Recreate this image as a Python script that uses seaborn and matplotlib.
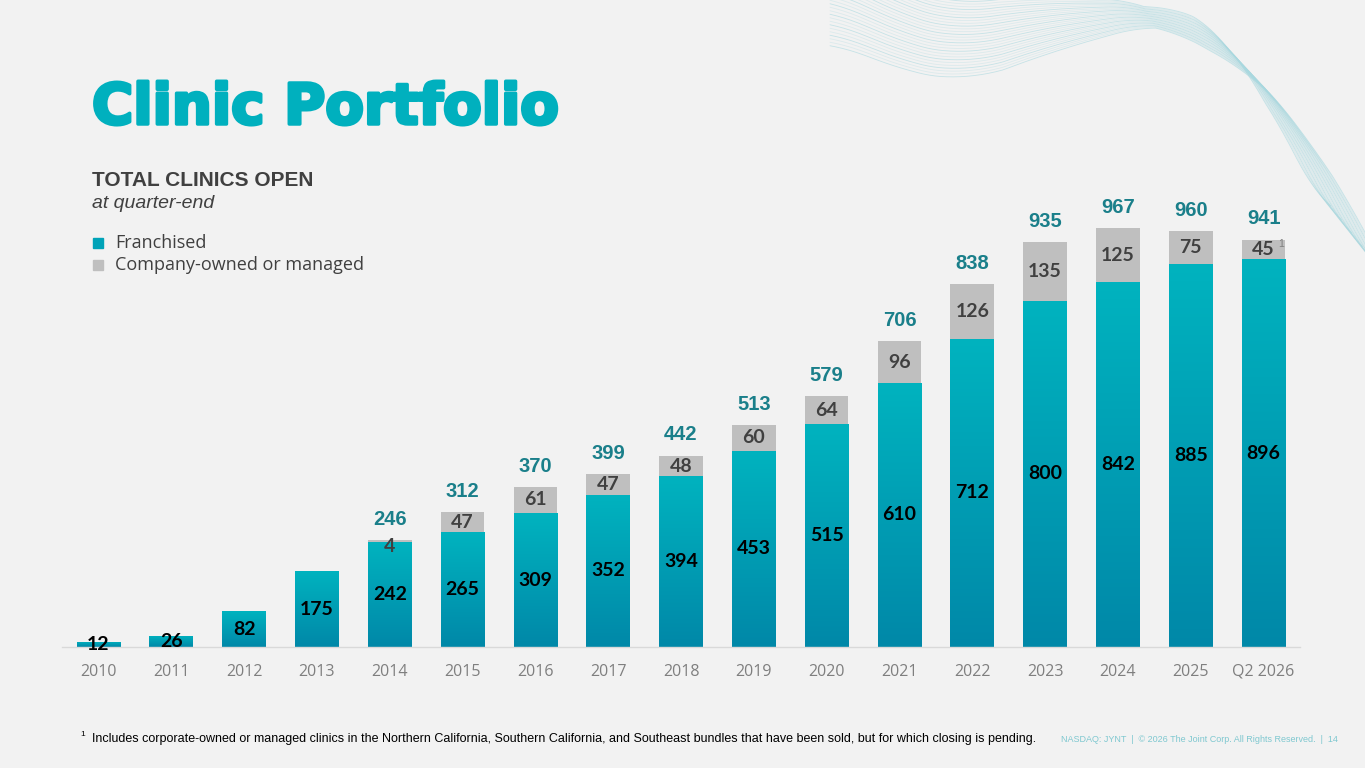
import numpy as np
import pandas as pd
import seaborn as sns
import matplotlib.pyplot as plt
import matplotlib.patheffects as pe
from matplotlib.colors import LinearSegmentedColormap

# data
years = ['2010', '2011', '2012', '2013', '2014', '2015', '2016', '2017', '2018',
         '2019', '2020', '2021', '2022', '2023', '2024', '2025', 'Q2 2026']
franchised = [12, 26, 82, 175, 242, 265, 309, 352, 394, 453, 515, 610, 712, 800, 842, 885, 896]
company = [0, 0, 0, 0, 4, 47, 61, 47, 48, 60, 64, 96, 126, 135, 125, 75, 45]
totals = [None, None, None, None, 246, 312, 370, 399, 442, 513, 579, 706, 838, 935, 967, 960, 941]

df = pd.DataFrame({'year': years, 'franchised': franchised, 'company': company})
df['total'] = df['franchised'] + df['company']

BG = '#F2F2F2'
TEAL = '#00B0BE'
TEAL_DARK = '#1A7F8A'
GRAY = '#BFBFBF'
TXT = '#404040'

sns.set_theme(style='white')
plt.rcParams['font.family'] = ['Liberation Sans', 'DejaVu Sans']

fig = plt.figure(figsize=(13.65, 7.68), dpi=100, facecolor=BG)

# faint wavy decoration, top right
deco = fig.add_axes([0, 0, 1, 1], zorder=0)
deco.set_xlim(0, 1365)
deco.set_ylim(768, 0)
deco.axis('off')
kx = np.array([830, 900, 960, 1050, 1150, 1230, 1290, 1330, 1380])
ky = np.array([-5, 30, 45, 25, 12, 45, 120, 190, 290])
xx = np.linspace(830, 1380, 400)
base = np.interp(xx, kx, ky)
base = np.convolve(np.pad(base, 30, mode='edge'), np.ones(61) / 61, mode='valid')
spread = np.interp(xx, [830, 1000, 1150, 1250, 1380], [3.5, 2.6, 0.8, 1.6, 4.5])
shift = np.interp(xx, [830, 1200, 1300, 1380], [0, 0.5, 2.5, 3.5])
for i in range(28):
    off = (i - 14)
    deco.plot(xx + off * shift, base + off * spread, color='#A8D8DF', lw=0.6,
              alpha=0.3 + 0.3 * (i % 3 == 0))

ax = fig.add_axes([62 / 1365, 121 / 768, 1238 / 1365, 433 / 768], zorder=1)
ax.set_facecolor('none')

sns.barplot(data=df, x='year', y='total', color=GRAY, width=0.6, saturation=1,
            linewidth=0, ax=ax)
sns.barplot(data=df, x='year', y='franchised', color=TEAL, width=0.6, saturation=1,
            linewidth=0, ax=ax)

# gradient fill on the franchised segments
cmap = LinearSegmentedColormap.from_list('tealgrad', ['#0088A8', '#00B3BF'])
grad = np.linspace(0, 1, 256).reshape(-1, 1)
n = len(years)
for p in ax.patches[n:]:
    x0, w, h = p.get_x(), p.get_width(), p.get_height()
    if h <= 0:
        continue
    im = ax.imshow(grad, cmap=cmap, origin='lower', aspect='auto',
                   extent=[x0, x0 + w, 0, h], zorder=2)
    im.set_clip_path(p)
    p.set_facecolor('none')
ax.set_xlim(-0.5, len(years) - 0.5)
ax.set_ylim(0, 1000)

for i, (f, c, t) in enumerate(zip(franchised, company, totals)):
    ax.text(i, f / 2, str(f), ha='center', va='center', fontsize=14,
            fontweight='bold', color='black', family='Lato', zorder=5)
    if c > 0:
        yc = f + c / 2 if c > 10 else f - 9
        ax.text(i, yc, str(c), ha='center', va='center', fontsize=14,
                fontweight='bold', color=TXT, family='Lato', zorder=5)
    if t is not None:
        ax.text(i, f + c + 26, str(t), ha='center', va='bottom',
                fontsize=14.5, fontweight='bold', color=TEAL_DARK, zorder=5)

ax.text(len(years) - 1 + 0.24, franchised[-1] + company[-1] - 10, '1', fontsize=7.5,
        color='#7F7F7F', ha='center', va='center', zorder=5)

for s in ['top', 'right', 'left']:
    ax.spines[s].set_visible(False)
ax.spines['bottom'].set_color('#D9D9D9')
ax.spines['bottom'].set_linewidth(1)
ax.set_yticks([])
ax.set_xlabel('')
ax.set_ylabel('')
ax.tick_params(axis='x', length=0, pad=12, labelsize=11.5, labelcolor='#7F7F7F')
for lbl in ax.get_xticklabels():
    lbl.set_family('Open Sans')

# titles and legend
fig.text(92 / 1365, 1 - 109 / 768, 'Clinic Portfolio', fontsize=40.5, fontweight='bold',
         color=TEAL, va='center', ha='left', family='DejaVu Sans',
         path_effects=[pe.withStroke(linewidth=2.5, foreground=TEAL)])
fig.text(92 / 1365, 1 - 181 / 768, 'TOTAL CLINICS OPEN', fontsize=15, fontweight='bold',
         color=TXT, va='center')
fig.text(92 / 1365, 1 - 203 / 768, 'at quarter-end', fontsize=14, style='italic',
         color=TXT, va='center')
for yy, col, lab in [(243, '#00A3B8', 'Franchised'), (265, GRAY, 'Company-owned or managed')]:
    fig.patches.append(plt.Rectangle((93 / 1365, 1 - (yy + 5) / 768), 10 / 1365, 10 / 768,
                                     transform=fig.transFigure, color=col))
    fig.text(115 / 1365, 1 - yy / 768, lab, fontsize=13, color=TXT, va='center',
             family='Open Sans')

fig.text(80 / 1365, 1 - 735 / 768, '1', fontsize=6, color='black', va='center')
fig.text(92 / 1365, 1 - 739 / 768,
         'Includes corporate-owned or managed clinics in the Northern California, Southern California, '
         'and Southeast bundles that have been sold, but for which closing is pending.',
         fontsize=9, color='black', va='center')
fig.text(1338 / 1365, 1 - 739 / 768,
         'NASDAQ: JYNT  |  \u00a9 2026 The Joint Corp. All Rights Reserved.  |  14',
         fontsize=6.5, color='#7FC8D0', va='center', ha='right')

fig.savefig('out.png', dpi=100, facecolor=BG)
